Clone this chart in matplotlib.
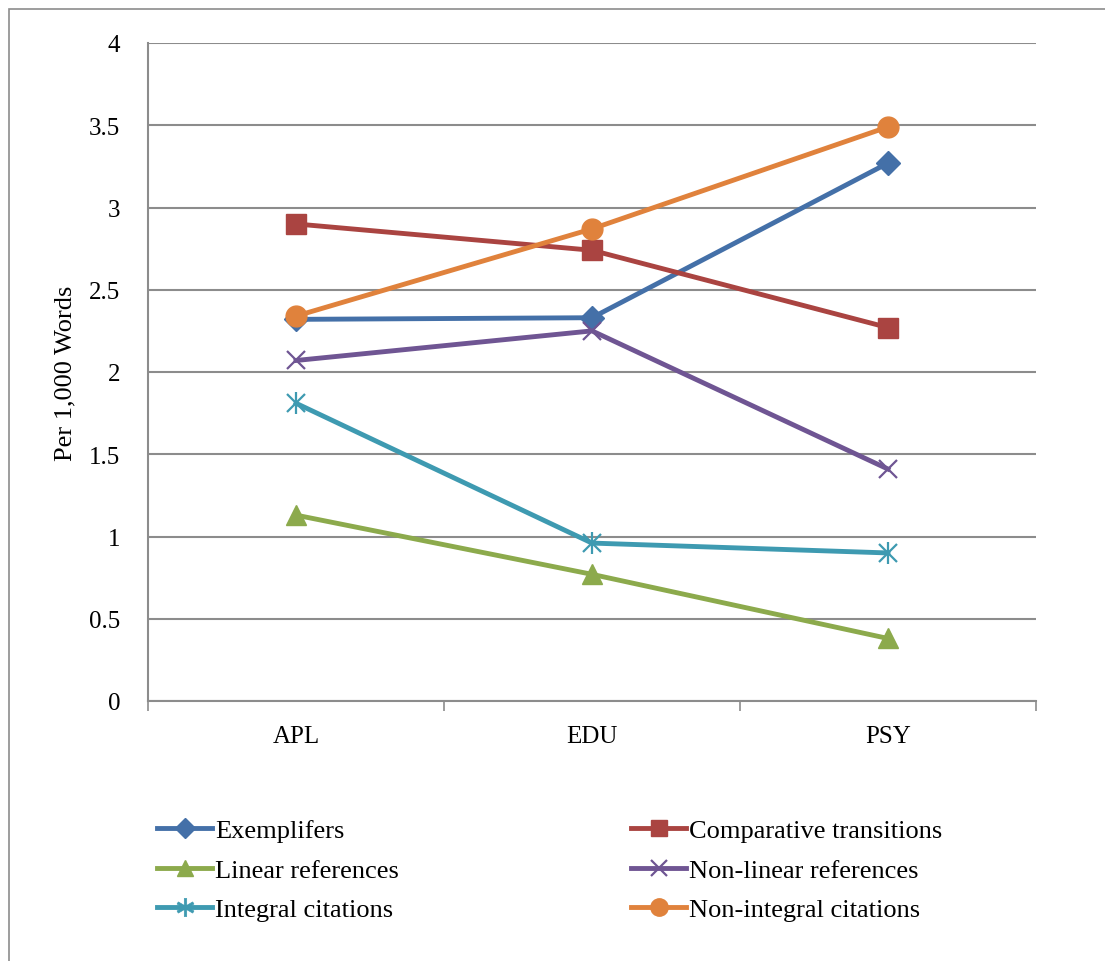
import numpy as np
import matplotlib.pyplot as plt
from matplotlib.patches import Rectangle
from matplotlib.lines import Line2D

plt.rcParams['font.family'] = ['Liberation Serif', 'DejaVu Serif']

disciplines = ["APL", "EDU", "PSY"]

exemplifers = [2.32, 2.33, 3.27]
comparative = [2.90, 2.74, 2.27]
linear_refs = [1.13, 0.77, 0.38]
nonlinear_refs = [2.07, 2.25, 1.41]
integral_cit = [1.81, 0.96, 0.90]
nonintegral_cit = [2.34, 2.87, 3.49]

series = [
    ("Exemplifers", exemplifers, "#4470A8", "D", 12.5),
    ("Comparative transitions", comparative, "#AA4441", "s", 14),
    ("Linear references", linear_refs, "#8CAA4C", "^", 14),
    ("Non-linear references", nonlinear_refs, "#6F5593", "x", 13),
    ("Integral citations", integral_cit, "#3E9AB1", "*", 13),
    ("Non-integral citations", nonintegral_cit, "#E0823C", "o", 15),
]
LW = 3.5

fig = plt.figure(figsize=(11.05, 9.62), dpi=100)
# chart frame
fig.patches.append(Rectangle((9 / 1105, -0.1), 1.2, 1.1 - 11 / 962 + 0.001,
                             transform=fig.transFigure, fill=False,
                             edgecolor="#8c8c8c", linewidth=1.2))

ax = fig.add_axes([148 / 1105, 1 - 702 / 962, 888 / 1105, 658 / 962])
x = np.arange(len(disciplines))

handles = []
for name, vals, color, mk, ms in series:
    if mk == "*":
        # asterisk-like marker
        ax.plot(x, vals, color=color, lw=LW, zorder=3)
        ax.plot(x, vals, ls="none", marker="x", ms=13, mew=1.6, color=color, zorder=4)
        ax.plot(x, vals, ls="none", marker="|", ms=16, mew=1.6, color=color, zorder=4)
        h = Line2D([0], [0], color=color, lw=LW, marker="$\\ast$", ms=13, mew=0.5)
    elif mk == "x":
        ax.plot(x, vals, color=color, lw=LW, marker="x", ms=ms, mew=1.6, zorder=3)
        h = Line2D([0], [0], color=color, lw=LW, marker="x", ms=ms - 2, mew=1.6)
    else:
        ax.plot(x, vals, color=color, lw=LW, marker=mk, ms=ms, mec=color, zorder=3)
        h = Line2D([0], [0], color=color, lw=LW, marker=mk, ms=ms - 2.5, mec=color)
    handles.append(h)

ax.set_xlim(-0.5, 2.5)
ax.set_ylim(0, 4)
ax.set_yticks(np.arange(0, 4.01, 0.5))
ax.set_yticklabels(["0", "0.5", "1", "1.5", "2", "2.5", "3", "3.5", "4"])
ax.set_xticks(x)
ax.set_xticklabels(disciplines)
ax.set_xticks([-0.5, 0.5, 1.5, 2.5], minor=True)
ax.tick_params(axis="x", which="major", length=0, labelsize=18, pad=17)
ax.tick_params(axis="x", which="minor", length=7, width=1.2, color="#8c8c8c", direction="out")
ax.tick_params(axis="y", length=0, labelsize=18, pad=20)

ax.yaxis.grid(True, color="#8c8c8c", linewidth=1.5)
ax.set_axisbelow(True)
for side in ["top", "right"]:
    ax.spines[side].set_visible(False)
for side in ["left", "bottom"]:
    ax.spines[side].set_color("#8c8c8c")
    ax.spines[side].set_linewidth(1.5)

ax.set_ylabel("Per 1,000 Words", fontsize=19, labelpad=9)

labels = [s[0] for s in series]
leg_kw = dict(loc="upper left", frameon=False, fontsize=19, handlelength=2.1,
              handletextpad=0.1, labelspacing=0.6, borderpad=0, borderaxespad=0)
fig.legend(handles[0::2], labels[0::2],
           bbox_to_anchor=(157 / 1105, 1 - 820 / 962), **leg_kw)
fig.legend(handles[1::2], labels[1::2],
           bbox_to_anchor=(631 / 1105, 1 - 820 / 962), **leg_kw)

fig.savefig("out.png", dpi=100)
